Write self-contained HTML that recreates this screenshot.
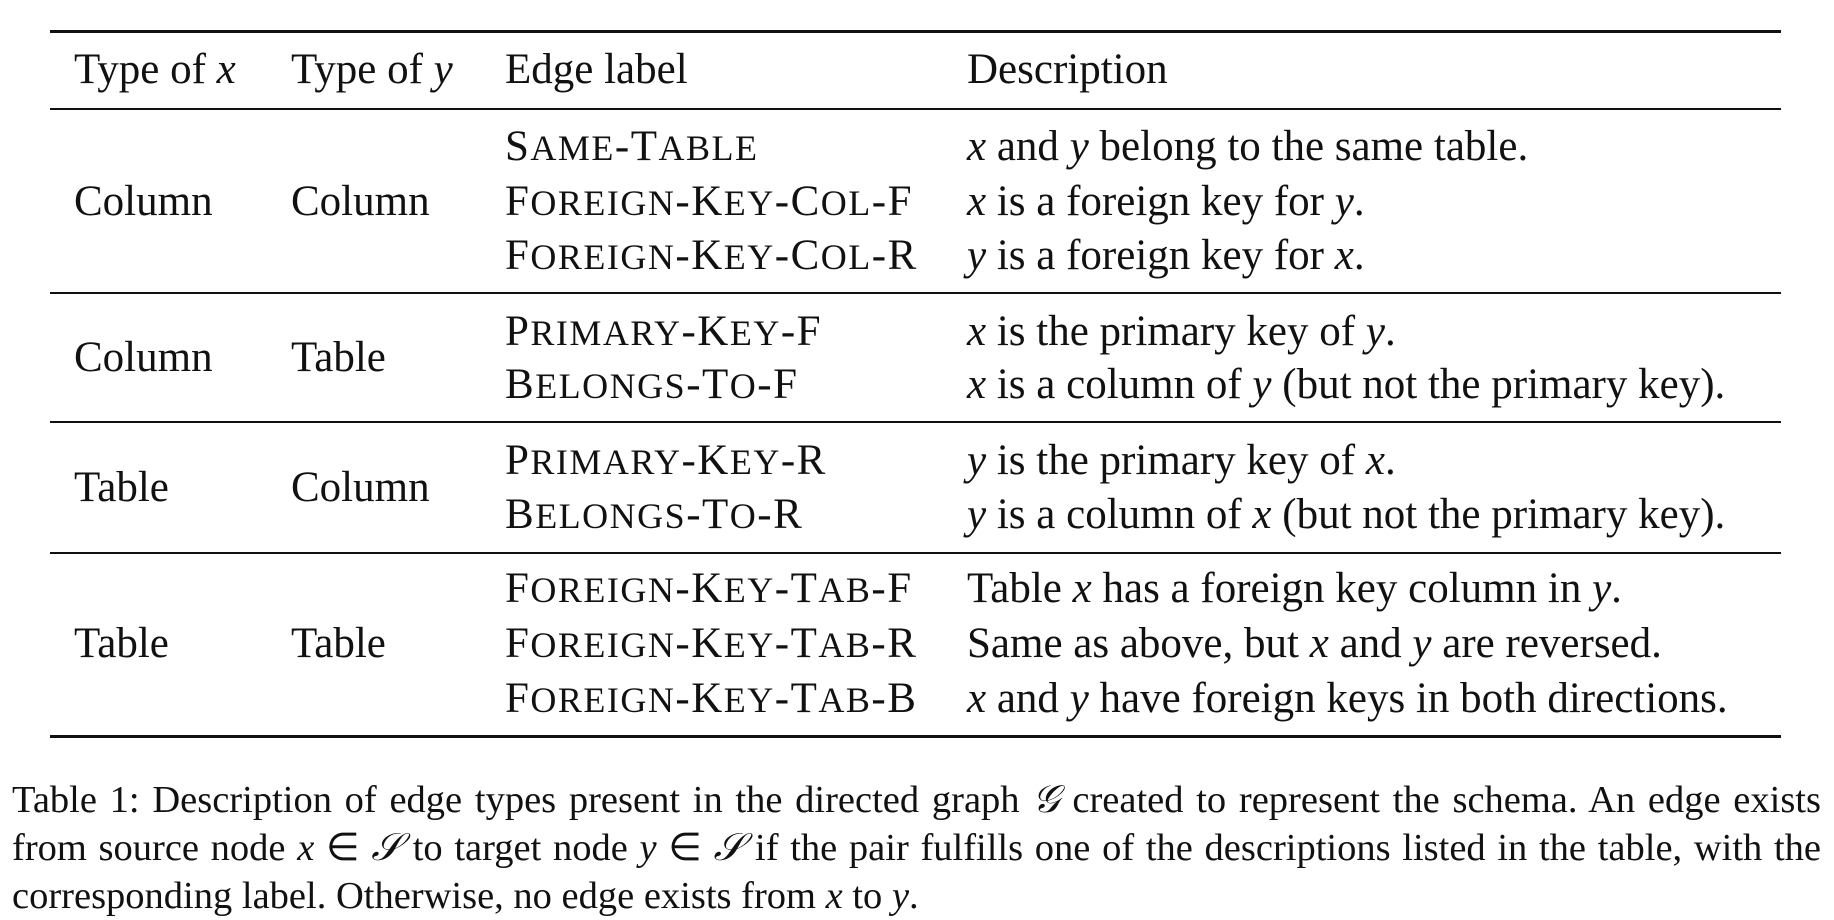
<!DOCTYPE html>
<html><head><meta charset="utf-8"><style>
body{margin:0;width:1834px;height:914px;background:#fff;overflow:hidden;font-family:"Liberation Serif",serif;color:#111;}
.t{position:absolute;font-size:43px;line-height:50px;white-space:nowrap;}
.sc{letter-spacing:1.5px;}
.sc s{text-decoration:none;font-size:36px;}
i{font-style:italic;}
.r{position:absolute;left:50px;width:1731px;background:#111;}
.cap{position:absolute;left:12px;width:1809px;top:776px;font-size:38.5px;line-height:48px;text-align:justify;}
</style></head><body>
<div class="r" style="top:30px;height:3px"></div>
<div class="r" style="top:108px;height:2px"></div>
<div class="r" style="top:292px;height:2px"></div>
<div class="r" style="top:421px;height:2px"></div>
<div class="r" style="top:552px;height:2px"></div>
<div class="r" style="top:735px;height:3px"></div>

<div class="t" style="left:74px;top:45px">Type of <i>x</i></div>
<div class="t" style="left:291px;top:45px">Type of <i>y</i></div>
<div class="t" style="left:505px;top:45px">Edge label</div>
<div class="t" style="left:967px;top:45px">Description</div>

<div class="t" style="left:74px;top:177px">Column</div>
<div class="t" style="left:291px;top:177px">Column</div>
<div class="t sc" style="left:505px;top:122px">S<s>AME</s>-T<s>ABLE</s></div>
<div class="t sc" style="left:505px;top:177px">F<s>OREIGN</s>-K<s>EY</s>-C<s>OL</s>-F</div>
<div class="t sc" style="left:505px;top:231px">F<s>OREIGN</s>-K<s>EY</s>-C<s>OL</s>-R</div>
<div class="t" style="left:967px;top:122px"><i>x</i> and <i>y</i> belong to the same table.</div>
<div class="t" style="left:967px;top:177px"><i>x</i> is a foreign key for <i>y</i>.</div>
<div class="t" style="left:967px;top:231px"><i>y</i> is a foreign key for <i>x</i>.</div>

<div class="t" style="left:74px;top:333px">Column</div>
<div class="t" style="left:291px;top:333px">Table</div>
<div class="t sc" style="left:505px;top:307px">P<s>RIMARY</s>-K<s>EY</s>-F</div>
<div class="t sc" style="left:505px;top:360px">B<s>ELONGS</s>-T<s>O</s>-F</div>
<div class="t" style="left:967px;top:307px"><i>x</i> is the primary key of <i>y</i>.</div>
<div class="t" style="left:967px;top:360px"><i>x</i> is a column of <i>y</i> (but not the primary key).</div>

<div class="t" style="left:74px;top:463px">Table</div>
<div class="t" style="left:291px;top:463px">Column</div>
<div class="t sc" style="left:505px;top:436px">P<s>RIMARY</s>-K<s>EY</s>-R</div>
<div class="t sc" style="left:505px;top:490px">B<s>ELONGS</s>-T<s>O</s>-R</div>
<div class="t" style="left:967px;top:436px"><i>y</i> is the primary key of <i>x</i>.</div>
<div class="t" style="left:967px;top:490px"><i>y</i> is a column of <i>x</i> (but not the primary key).</div>

<div class="t" style="left:74px;top:619px">Table</div>
<div class="t" style="left:291px;top:619px">Table</div>
<div class="t sc" style="left:505px;top:564px">F<s>OREIGN</s>-K<s>EY</s>-T<s>AB</s>-F</div>
<div class="t sc" style="left:505px;top:619px">F<s>OREIGN</s>-K<s>EY</s>-T<s>AB</s>-R</div>
<div class="t sc" style="left:505px;top:674px">F<s>OREIGN</s>-K<s>EY</s>-T<s>AB</s>-B</div>
<div class="t" style="left:967px;top:564px">Table <i>x</i> has a foreign key column in <i>y</i>.</div>
<div class="t" style="left:967px;top:619px">Same as above, but <i>x</i> and <i>y</i> are reversed.</div>
<div class="t" style="left:967px;top:674px"><i>x</i> and <i>y</i> have foreign keys in both directions.</div>

<div class="cap">Table 1: Description of edge types present in the directed graph <i>𝒢</i> created to represent the schema. An edge exists from source node <i>x</i> ∈ <i>𝒮</i> to target node <i>y</i> ∈ <i>𝒮</i> if the pair fulfills one of the descriptions listed in the table, with the corresponding label. Otherwise, no edge exists from <i>x</i> to <i>y</i>.</div>
</body></html>
